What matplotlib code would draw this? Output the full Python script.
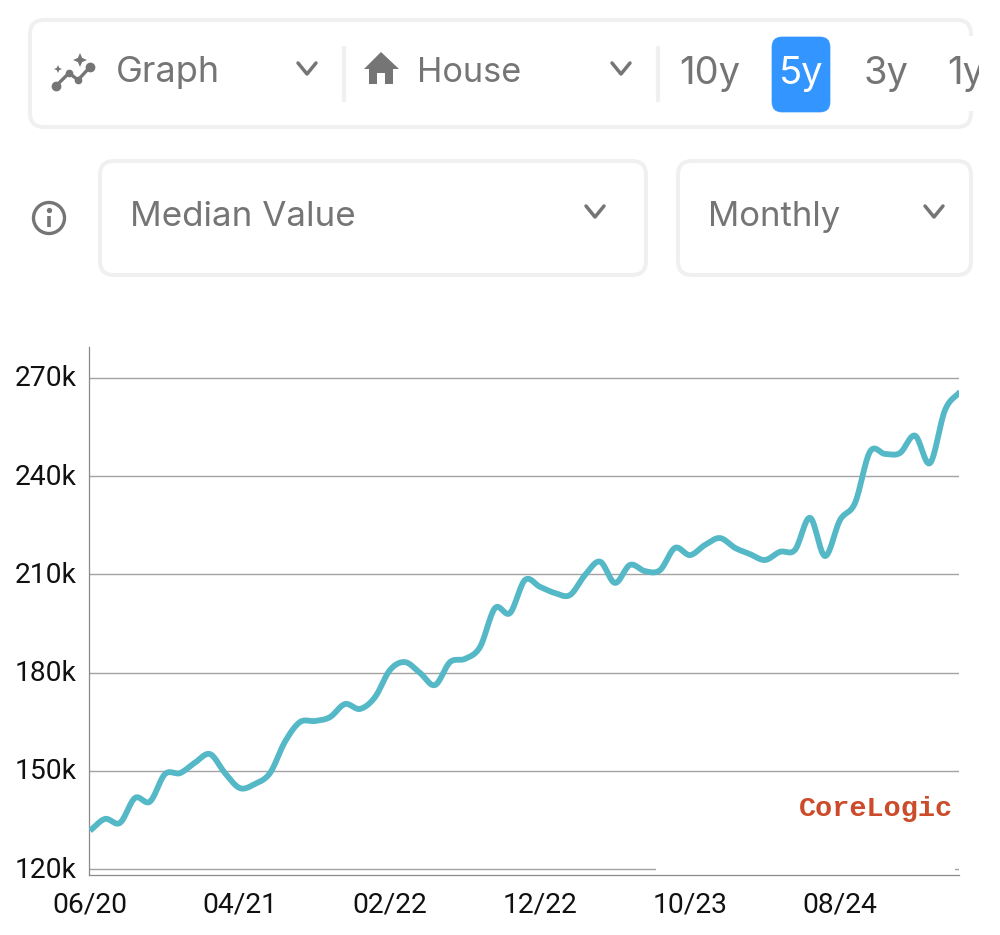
import numpy as np
import matplotlib
matplotlib.use("Agg")
import matplotlib.pyplot as plt
from matplotlib.patches import FancyBboxPatch, Rectangle, Circle, Polygon
from matplotlib.transforms import ScaledTranslation

# Monthly median value, in thousands, June 2020 onward
median_value_k = [
    131.7, 135.3, 134.1, 141.7, 140.6, 149.0, 149.3, 152.5, 155.1, 149.3,
    144.7, 146.0, 149.3, 158.9, 164.9, 165.2, 166.4, 170.4, 168.9, 172.5,
    180.8, 183.2, 179.9, 176.2, 183.2, 184.2, 187.8, 199.7, 198.2, 208.3,
    206.2, 204.3, 203.7, 209.8, 213.9, 207.4, 212.9, 211.0, 211.3, 218.1,
    215.9, 219.0, 221.1, 218.1, 216.2, 214.4, 216.9, 217.5, 227.3, 215.6,
    226.6, 231.8, 247.5, 246.8, 247.1, 252.4, 244.0, 260.2, 265.8,
]
x_tick_months = [0, 10, 20, 30, 40, 50]
x_tick_labels = ["06/20", "04/21", "02/22", "12/22", "10/23", "08/24"]
y_tick_values = [120, 150, 180, 210, 240, 270]
y_tick_labels = ["120k", "150k", "180k", "210k", "240k", "270k"]

W, H = 1000, 935
GREY = "#757575"
BORDER = "#f0f0f0"
LINE = "#55b8c7"
UI_FONT = ["Inter", "DejaVu Sans"]


def smooth(y, per_segment=16):
    """Cubic Hermite curve through every monthly value."""
    y = np.asarray(y, float)
    m = np.gradient(y)
    t = np.linspace(0, 1, per_segment, endpoint=False)
    xs, ys = [], []
    for i in range(len(y) - 1):
        h00 = 2 * t**3 - 3 * t**2 + 1
        h10 = t**3 - 2 * t**2 + t
        h01 = -2 * t**3 + 3 * t**2
        h11 = t**3 - t**2
        xs.append(i + t)
        ys.append(h00 * y[i] + h10 * m[i] + h01 * y[i + 1] + h11 * m[i + 1])
    return np.r_[np.concatenate(xs), len(y) - 1], np.r_[np.concatenate(ys), y[-1]]


fig = plt.figure(figsize=(W / 100, H / 100), dpi=100, facecolor="white")

# Toolbar layer, addressed in screen units
ui = fig.add_axes([0, 0, 1, 1], zorder=1)
ui.set_xlim(0, W)
ui.set_ylim(H, 0)
ui.axis("off")


def box(x0, y0, x1, y1, r=14, ec=BORDER, fc="white", lw=2.9, z=1):
    ui.add_patch(FancyBboxPatch((x0, y0), x1 - x0, y1 - y0,
                                boxstyle=f"round,pad=0,rounding_size={r}",
                                ec=ec, fc=fc, lw=lw, zorder=z))


def chevron(cx, cy):
    ui.plot([cx - 9, cx, cx + 9], [cy - 6, cy + 5, cy - 6], color=GREY, lw=2.5,
            solid_capstyle="round", solid_joinstyle="round", zorder=3)


def label(x, y, s, size, color=GREY):
    return ui.text(x, y, s, fontsize=size, color=color, family=UI_FONT,
                   va="baseline", ha="left", zorder=4)


box(30, 20, 971, 127)
ui.add_patch(Rectangle((966, 36), 16, 75, fc="white", ec="none", zorder=2))
box(100, 161, 646, 275)
box(678, 161, 971, 275)

for x in (344, 658):
    ui.plot([x, x], [46, 102], color=BORDER, lw=3, solid_capstyle="butt", zorder=2)

box(772, 37, 830, 112, r=10, ec="#3395ff", fc="#3395ff", lw=0.5, z=2)

label(116, 82, "Graph", 26)
label(417, 82, "House", 24.7)
label(130, 226, "Median Value", 25.2)
label(708, 226, "Monthly", 25)
label(679, 84, "10y", 27.5)
label(779, 84, "5y", 27.5, "white")
label(864, 84, "3y", 27.5)
one_y = label(947, 84, "1y", 27.5)
one_y.set_clip_on(True)
one_y.set_clip_path(Rectangle((940, 30), 39, 80, transform=ui.transData))

for cx, cy in [(307, 69), (621, 69), (595, 212), (934, 212)]:
    chevron(cx, cy)

# Graph icon: rising line with nodes and sparkles
icon_x = [56, 69, 78, 90]
icon_y = [86, 73, 80, 67]
ui.plot(icon_x, icon_y, color=GREY, lw=2.4, zorder=3)
ui.plot(icon_x[::3], icon_y[::3], "o", color=GREY, ms=6, zorder=3)
ui.plot(icon_x[1:3], icon_y[1:3], "o", color=GREY, ms=4.5, zorder=3)
for cx, cy, s in [(80, 60, 7), (58, 69, 4)]:
    ui.add_patch(Polygon([(cx, cy - s), (cx + s * .3, cy - s * .3), (cx + s, cy),
                          (cx + s * .3, cy + s * .3), (cx, cy + s),
                          (cx - s * .3, cy + s * .3), (cx - s, cy),
                          (cx - s * .3, cy - s * .3)], fc=GREY, ec="none", zorder=3))

# House icon
ui.add_patch(Polygon([(381, 52), (399, 69), (393, 69), (393, 84), (385, 84), (385, 73),
                      (377, 73), (377, 84), (369, 84), (369, 69), (364, 69)],
                     fc=GREY, ec="none", zorder=3))

# Info icon
ui.add_patch(Circle((49, 218), 15.5, fc="none", ec=GREY, lw=2.4, zorder=3))
ui.plot([49, 49], [216, 227], color=GREY, lw=2.6, solid_capstyle="butt", zorder=3)
ui.plot([49], [210], "o", color=GREY, ms=2.8, zorder=3)

# Chart area
left, right, top, bottom = 89, 959, 347, 875
ax = fig.add_axes([left / W, 1 - bottom / H, (right - left) / W, (bottom - top) / H], zorder=2)
ax.patch.set_alpha(0)

px_per_k = 98.2 / 30
ax.set_ylim(120 - (875 - 869) / px_per_k, 120 + (869 - 347) / px_per_k)
ax.set_xlim(-1 / 15, (959 - 90) / 15)

for s in ("top", "right"):
    ax.spines[s].set_visible(False)
for s in ("left", "bottom"):
    ax.spines[s].set_color("#8a8a8a")
    ax.spines[s].set_linewidth(0.9)

ax.set_yticks(y_tick_values, y_tick_labels, family="Roboto", fontsize=20.3, color="#111111")
ax.set_xticks(x_tick_months, x_tick_labels, family="Roboto", fontsize=20.3, color="#111111")
ax.tick_params(axis="both", length=0)
ax.tick_params(axis="y", pad=9)
ax.tick_params(axis="x", pad=12)
ax.grid(axis="y", color="#a3a3a3", lw=1.0, zorder=1)
ax.set_axisbelow(True)

# Nudge the value labels up so they sit on their gridlines
nudge = ScaledTranslation(0, 2 / 100, fig.dpi_scale_trans)
for tl in ax.get_yticklabels():
    tl.set_transform(tl.get_transform() + nudge)

# Backing plate behind the provider mark, which interrupts the lowest gridline
ax.add_patch(Rectangle((656, 780), 299, 93, transform=ui.transData, fc="white", ec="none", zorder=1.5, clip_on=False))

cx, cy = smooth(median_value_k)
ax.plot(cx, cy, color=LINE, lw=4.2, solid_capstyle="butt", solid_joinstyle="round", zorder=3)

ax.text(876, 809, "CoreLogic", transform=ui.transData, family="Liberation Mono", weight="bold",
        fontsize=20.5, color="#cb4b2b", ha="center", va="center", zorder=4)

fig.savefig("out.png", dpi=100, facecolor="white")
